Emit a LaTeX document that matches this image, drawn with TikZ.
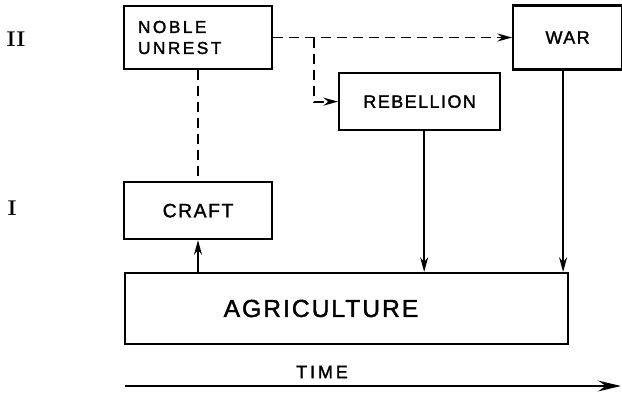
\documentclass[tikz,border=0pt]{standalone}
\usepackage{fontspec}
\usepackage{tikz}
\usetikzlibrary{arrows.meta,positioning}
\newfontfamily\lettering[LetterSpace=8,FakeBold=1.6]{Liberation Sans}

\begin{document}
\begin{tikzpicture}[
          x=0.75pt, y=0.75pt,
          font=\lettering\fontsize{13.5}{15.75}\selectfont,
          line/.style={-{Stealth[length=11pt,width=6pt]}, line width=1.3pt},
          dashline/.style={line width=1.3pt, dash pattern=on 7.5pt off 4.5pt},
          dasharrow/.style={dashline, -{Stealth[length=11pt,width=6pt]}},
          box/.style={draw, line width=1.6pt, align=center, inner sep=0pt},
          level/.style={font=\rmfamily\bfseries\fontsize{16}{18}\selectfont}
        ]
          \useasboundingbox (0,0) rectangle (622,394);

          \node[box, text width=90pt, inner xsep=10.5pt, align=left, minimum height=47.25pt,
                font=\lettering\addfontfeature{LetterSpace=14}\fontsize{13}{15.75}\selectfont] (noble) at (198,356.5) {NOBLE\\UNREST};
          \node[box, minimum width=81.75pt, minimum height=48pt, right=179.25pt of noble] (war) {WAR};
          \node[box, minimum width=120.75pt, minimum height=42.75pt, below right=1.5pt and 48.75pt of noble] (rebellion) {REBELLION};
          \node[box, minimum width=111pt, minimum height=42.75pt, below=83.25pt of noble,
                font=\lettering\fontsize{14.5}{17}\selectfont] (craft) {CRAFT};
          \node[box, minimum width=332.25pt, minimum height=53.25pt] (agr) at (346.5,85.5) {};
          \node[font=\lettering\fontsize{18.5}{22}\selectfont] (agrtext) at (321,85.5) {AGRICULTURE};

          \node[level] (lvtwo) at (16,354.5) {II};
          \node[level] (lvone) at (12,185.5) {I};

          \node[font=\lettering\addfontfeature{LetterSpace=16}\fontsize{13.5}{16}\selectfont] (time) at (322,22) {TIME};
          \coordinate (tstart) at (125,8);
          \coordinate (tend) at (621,8);
          \draw[line, line width=1.5pt, -{Stealth[length=17pt,width=8pt]}] (tstart) -- (tend);

          \coordinate (split) at ([xshift=-18pt]noble.east -| rebellion.west);
          \draw[dashline] (noble) -- (craft);
          \draw[dasharrow] (noble.east) -- (noble.east -| war.west);
          \draw[dasharrow] (split) |- (rebellion.west);

          \draw[line] (craft.south |- agr.north) -- (craft.south);
          \draw[line] ([xshift=3.4pt]rebellion.south) -- ([xshift=3.4pt]rebellion.south |- agr.north);
          \draw[line] ([xshift=-3.4pt]war.south) -- ([xshift=-3.4pt]war.south |- agr.north);
        \end{tikzpicture}
\end{document}
